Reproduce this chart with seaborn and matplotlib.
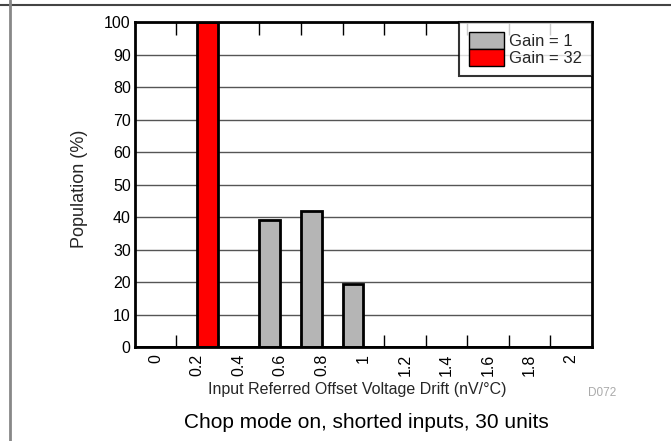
import numpy as np
import pandas as pd
import matplotlib
matplotlib.use('Agg')
import matplotlib.pyplot as plt
from matplotlib.lines import Line2D
import seaborn as sns

# Histogram bins (nV/°C) and population per bin (%)
gain1_drift = [0.55, 0.75, 0.95]
gain1_pct = [39, 42, 19.5]
gain32_drift = [0.25]
gain32_pct = [100]
tick_labels = ['0', '0.2', '0.4', '0.6', '0.8', '1', '1.2', '1.4', '1.6', '1.8', '2']

df = pd.DataFrame({
    'drift': gain1_drift + gain32_drift,
    'pct': gain1_pct + gain32_pct,
    'gain': ['Gain = 1'] * len(gain1_drift) + ['Gain = 32'] * len(gain32_drift),
})

sns.set_theme(style='white')
plt.rcParams['font.family'] = ['Liberation Sans', 'DejaVu Sans']

fig = plt.figure(figsize=(6.71, 4.41), dpi=100)
ax = fig.add_axes([0.201, 0.213, 0.681, 0.737])

edges = [round(-0.1 + 0.1 * i, 2) for i in range(23)]
sns.histplot(data=df, x='drift', weights='pct', hue='gain', bins=edges,
             palette={'Gain = 1': '#b5b5b5', 'Gain = 32': '#ff0000'},
             alpha=1, edgecolor='black', linewidth=2, ax=ax, zorder=3)

ax.set_xlim(-0.1, 2.1)
ax.set_ylim(0, 100)
ax.set_yticks(range(0, 101, 10))
ax.yaxis.grid(True, color='#555555', linewidth=1)
ax.set_axisbelow(True)
ax.tick_params(axis='y', length=0, labelsize=11.5, colors='black', pad=3)

ax.set_xticks([float(t) for t in tick_labels])
ax.set_xticklabels(tick_labels, rotation=90)
ax.tick_params(axis='x', which='major', length=0, labelsize=11.5, colors='black', pad=5)
ax.set_xticks(np.round(np.arange(0.1, 2.0, 0.2), 2), minor=True)
ax.tick_params(axis='x', which='minor', direction='in', length=9, width=1,
               color='black', top=True, bottom=True)

for s in ax.spines.values():
    s.set_color('black')
    s.set_linewidth(2)
    s.set_zorder(5)

ax.set_xlabel('Input Referred Offset Voltage Drift (nV/°C)', fontsize=11.5)
ax.xaxis.set_label_coords(0.486, -0.108)
ax.set_ylabel('Population (%)', fontsize=13)
ax.yaxis.set_label_coords(-0.103, 0.486)

sns.move_legend(ax, 'upper right', title=None, frameon=True, fancybox=False,
                fontsize=12, borderaxespad=0, labelspacing=0, handlelength=2.1,
                handleheight=1.2, handletextpad=0.3, borderpad=0.6, edgecolor='black')
leg = ax.get_legend()
leg.get_frame().set_linewidth(1.5)
leg.set_zorder(6)
for h in leg.legend_handles:
    h.set_linewidth(1)

fig.text(602 / 671, 1 - 393.5 / 441, 'D072', fontsize=8.5, color='#aaaaaa', ha='center', va='center')
fig.text(366 / 671, 1 - 423 / 441, 'Chop mode on, shorted inputs, 30 units', fontsize=15,
         color='black', ha='center', va='center')

fig.add_artist(Line2D([0, 1], [1 - 4.5 / 441] * 2, transform=fig.transFigure,
                      color='#444444', linewidth=1.5))
fig.add_artist(Line2D([10 / 671] * 2, [0, 1], transform=fig.transFigure,
                      color='#888888', linewidth=2))

fig.savefig('out.png', dpi=100)
